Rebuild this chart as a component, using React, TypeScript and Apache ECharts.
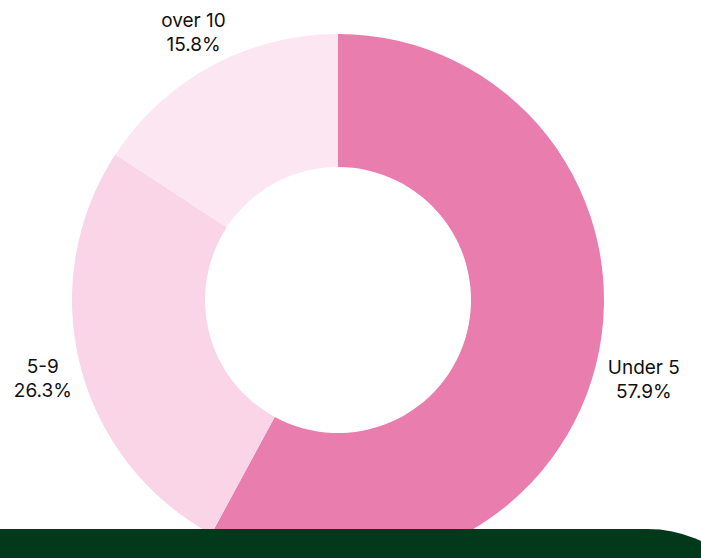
import React, { useEffect, useRef } from "react";
import * as echarts from "echarts";

const categories = ["Under 5", "5-9", "over 10"];
const values = [11, 5, 3];
const colors = ["#E87DAE", "#F9D5E7", "#FCE6F1"];

const W = 701;
const H = 558;
const CX = 338;
const CY = 300;
const R_OUT = 266;
const R_IN = 133;
const R_LABEL = 271;
const LABEL_SHIFT_X = 2;
const LABEL_SHIFT_Y = 3;

export default function App() {
  const ref = useRef<HTMLDivElement>(null);
  useEffect(() => {
    if (!ref.current) return;
    const chart = echarts.init(ref.current, null, { renderer: "svg" });
    const total = values.reduce((a, b) => a + b, 0);
    const midAngles: number[] = [];
    let acc = 0;
    values.forEach((v) => {
      midAngles.push(((acc + v / 2) / total) * Math.PI * 2);
      acc += v;
    });
    chart.setOption({
      animation: false,
      backgroundColor: "#ffffff",
      series: [
        {
          type: "pie",
          center: [CX, CY],
          radius: [R_IN, R_OUT],
          startAngle: 90,
          clockwise: true,
          percentPrecision: 1,
          data: categories.map((c, i) => ({
            name: c,
            value: values[i],
            itemStyle: { color: colors[i] },
          })),
          label: {
            show: true,
            position: "outside",
            formatter: "{b}\n{d}%",
            fontFamily: "Inter",
            fontSize: 19,
            lineHeight: 24,
            color: "#111111",
            overflow: "none",
            alignTo: "none",
          },
          labelLine: { show: false },
          emphasis: { disabled: true },
          labelLayout: (params: any) => {
            const a = midAngles[params.dataIndex];
            const dx = Math.sin(a);
            const dy = -Math.cos(a);
            const w = params.labelRect.width + 4;
            const h = params.labelRect.height;
            const dist = (t: number) => {
              const bx = t * dx;
              const by = t * dy;
              const nx = Math.max(bx - w / 2, Math.min(0, bx + w / 2));
              const ny = Math.max(by - h / 2, Math.min(0, by + h / 2));
              return Math.hypot(nx, ny);
            };
            let lo = 0;
            let hi = 800;
            for (let k = 0; k < 40; k++) {
              const m = (lo + hi) / 2;
              if (dist(m) >= R_LABEL) hi = m;
              else lo = m;
            }
            return {
              x: CX + hi * dx + LABEL_SHIFT_X,
              y: CY + hi * dy + LABEL_SHIFT_Y,
              align: "center",
              verticalAlign: "middle",
            };
          },
        },
      ],
      graphic: [
        {
          type: "rect",
          z: 100,
          shape: { x: -60, y: 529, width: 832, height: 200, r: [0, 124, 0, 0] },
          style: { fill: "#03391B" },
        },
      ],
    });
    return () => chart.dispose();
  }, []);
  return (
    <div
      ref={ref}
      style={{ position: "absolute", left: 0, top: 0, width: W, height: H }}
    />
  );
}
